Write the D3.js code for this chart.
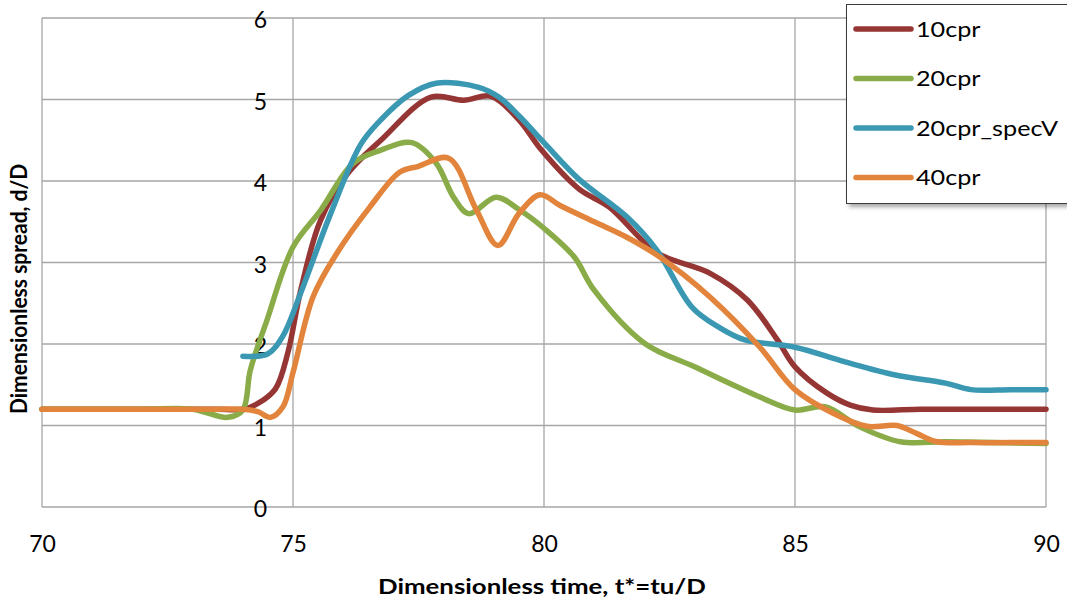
<!DOCTYPE html>
<html>
<head>
<meta charset="utf-8">
<script src="https://cdn.jsdelivr.net/npm/d3@7"></script>
<style>
  body { margin: 0; background: #fff; }
  text { font-family: Lato, "Open Sans", sans-serif; fill: #000; }
</style>
</head>
<body>
<div id="chart"></div>
<script>
// series
const seriesNames = ['10cpr', '20cpr', '20cpr_specV', '40cpr'];
const seriesColors = ['#963634', '#8aac48', '#3b98b3', '#e2843b'];

const t10 = [70, 71, 72, 73, 73.5, 74, 74.3, 74.65, 74.9, 75.15, 75.55, 76.1, 76.75, 77.75, 78.4, 78.95, 79.5, 79.95, 80.7, 81.3, 82.25, 83.3, 84.05, 84.65, 85, 85.63, 86.1, 86.55, 87.5, 88.5, 89.5, 90];
const d10 = [1.2, 1.2, 1.2, 1.2, 1.2, 1.2, 1.27, 1.45, 1.9, 2.65, 3.52, 4.1, 4.5, 5.03, 4.99, 5.04, 4.75, 4.38, 3.9, 3.68, 3.12, 2.87, 2.54, 2.05, 1.72, 1.4, 1.25, 1.19, 1.2, 1.2, 1.2, 1.2];

const t20 = [70, 71, 72, 73, 73.7, 74.0, 74.15, 74.48, 75, 75.55, 76.2, 76.75, 77.37, 77.85, 78.2, 78.5, 79.05, 79.5, 80, 80.6, 81, 82, 83, 84.3, 85, 85.6, 86.3, 87.1, 88, 89, 90];
const d20 = [1.2, 1.2, 1.2, 1.2, 1.1, 1.19, 1.68, 2.29, 3.19, 3.64, 4.22, 4.38, 4.47, 4.22, 3.8, 3.6, 3.8, 3.65, 3.42, 3.07, 2.66, 2.01, 1.72, 1.35, 1.19, 1.23, 0.98, 0.8, 0.8, 0.79, 0.78];

const tSpec = [74, 74.5, 74.8, 75.15, 75.75, 76.35, 76.75, 77.3, 77.85, 78.7, 79.1, 79.5, 80, 80.7, 81.65, 82.25, 82.95, 83.5, 84, 85, 86, 87, 88, 88.5, 89.3, 90];
const dSpec = [1.85, 1.88, 2.1, 2.62, 3.6, 4.45, 4.75, 5.05, 5.2, 5.15, 5.03, 4.8, 4.47, 4.02, 3.56, 3.15, 2.45, 2.2, 2.05, 1.96, 1.78, 1.62, 1.52, 1.44, 1.44, 1.44];

const t40 = [70, 71, 72, 73, 73.5, 74, 74.3, 74.55, 74.8, 75, 75.4, 75.88, 76.53, 77.13, 77.5, 78.1, 78.65, 79.08, 79.5, 79.92, 80.32, 81, 81.65, 82.3, 83.3, 84.3, 85, 85.76, 86.43, 87.03, 87.43, 87.83, 88.5, 89.3, 90];
const d40 = [1.2, 1.2, 1.2, 1.2, 1.2, 1.2, 1.17, 1.1, 1.23, 1.65, 2.58, 3.12, 3.68, 4.11, 4.18, 4.28, 3.65, 3.21, 3.6, 3.83, 3.7, 3.5, 3.31, 3.07, 2.58, 1.96, 1.44, 1.15, 0.99, 1.0, 0.9, 0.8, 0.79, 0.79, 0.79];

const times = [t10, t20, tSpec, t40];
const spreads = [d10, d20, dSpec, d40];

const xTicks = [70, 75, 80, 85, 90];
const yTicks = [0, 1, 2, 3, 4, 5, 6];

const width = 1067;
const height = 600;
const margin = { top: 18, right: 21, bottom: 93, left: 42 };

const svg = d3.select('#chart')
    .append('svg')
    .attr('width', width)
    .attr('height', height);

const x = d3.scaleLinear()
    .domain([70, 90])
    .range([margin.left, width - margin.right]);

const y = d3.scaleLinear()
    .domain([0, 6])
    .range([height - margin.bottom, margin.top]);

// grid
const grid = svg.append('g')
    .attr('stroke', '#a6a6a6')
    .attr('stroke-width', 1.3);

grid.selectAll('.hg')
    .data(yTicks)
    .join('line')
    .attr('x1', x(70))
    .attr('x2', x(90))
    .attr('y1', d => y(d))
    .attr('y2', d => y(d));

grid.selectAll('.vg')
    .data(xTicks)
    .join('line')
    .attr('x1', d => x(d))
    .attr('x2', d => x(d))
    .attr('y1', y(0))
    .attr('y2', y(6));

// y axis labels sit on the 75 line
const yAxis = g => g
    .attr('transform', `translate(${x(75)},0)`)
    .call(d3.axisLeft(y).tickValues(yTicks).tickFormat(d3.format('d')).tickSize(0).tickPadding(26))
    .call(g => g.select('.domain').remove())
    .call(g => g.selectAll('text')
        .attr('font-size', '23px')
        .attr('font-family', 'Lato, sans-serif')
        .attr('dy', '0.42em'));

const xAxis = g => g
    .attr('transform', `translate(0,${y(0)})`)
    .call(d3.axisBottom(x).tickValues(xTicks).tickSize(0).tickPadding(29))
    .call(g => g.select('.domain').remove())
    .call(g => g.selectAll('text')
        .attr('font-size', '23px')
        .attr('font-family', 'Lato, sans-serif'));

svg.append('g').call(yAxis);
svg.append('g').call(xAxis);

// lines
const line = d3.line()
    .x(d => x(d[0]))
    .y(d => y(d[1]))
    .curve(d3.curveCatmullRom.alpha(0.5));

svg.append('g')
    .selectAll('path')
    .data(seriesNames)
    .join('path')
    .attr('d', (d, i) => line(d3.zip(times[i], spreads[i])))
    .attr('fill', 'none')
    .attr('stroke', (d, i) => seriesColors[i])
    .attr('stroke-width', 5.5)
    .attr('stroke-linejoin', 'round')
    .attr('stroke-linecap', 'round');

// axis titles (the picture looks stretched sideways)
svg.append('text')
    .attr('transform', 'translate(542,594) scale(1.23,1)')
    .attr('text-anchor', 'middle')
    .attr('font-size', '21px')
    .attr('font-weight', 'bold')
    .text('Dimensionless time, t*=tu/D');

svg.append('text')
    .attr('transform', 'translate(27,414) scale(1.12,1) rotate(-90)')
    .attr('text-anchor', 'start')
    .attr('font-size', '21px')
    .attr('font-weight', 'bold')
    .text('Dimensionless spread, d/D');

// legend
const defs = svg.append('defs');
const f = defs.append('filter').attr('id', 'shadow').attr('x', '-10%').attr('y', '-10%').attr('width', '130%').attr('height', '130%');
f.append('feDropShadow').attr('dx', 3).attr('dy', 3).attr('stdDeviation', 2).attr('flood-color', '#000').attr('flood-opacity', 0.35);

const legend = svg.append('g').attr('transform', 'translate(846,4)');
legend.append('rect')
    .attr('x', 0.5)
    .attr('y', 0.5)
    .attr('width', 230)
    .attr('height', 199)
    .attr('fill', '#fff')
    .attr('stroke', '#3a3a3a')
    .attr('stroke-width', 1)
    .attr('filter', 'url(#shadow)');

const item = legend.selectAll('.item')
    .data(seriesNames)
    .join('g')
    .attr('transform', (d, i) => `translate(0,${25 + i * 49.5})`);

item.append('line')
    .attr('x1', 10)
    .attr('x2', 65)
    .attr('stroke', (d, i) => seriesColors[i])
    .attr('stroke-width', 5.5)
    .attr('stroke-linecap', 'round');

item.append('text')
    .attr('transform', 'translate(70,0) scale(1.2,1)')
    .attr('dy', '0.36em')
    .attr('font-size', '21px')
    .text(d => d);
</script>
</body>
</html>
